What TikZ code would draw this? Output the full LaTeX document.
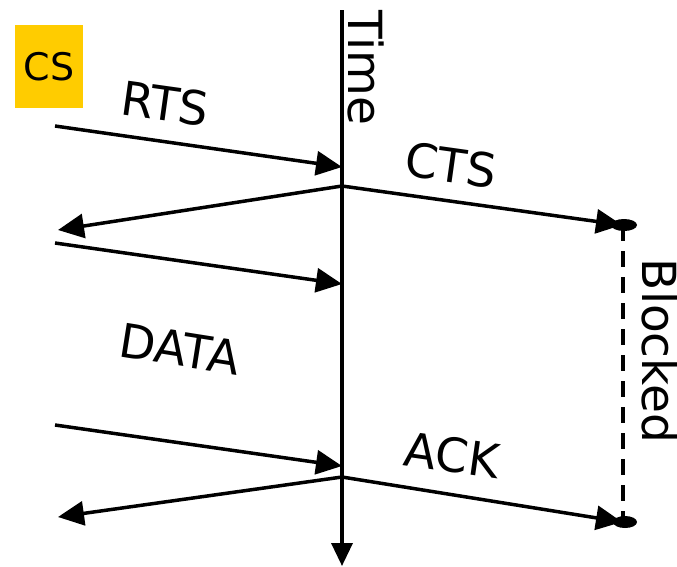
\documentclass[tikz,border=0pt]{standalone}
\usepackage{fontspec}
\setmainfont{DejaVu Sans}
\usetikzlibrary{arrows.meta}
\definecolor{csyellow}{HTML}{FFCC00}
\tikzset{
  msg/.style={line width=3.5pt,-{Triangle[length=26pt,width=24pt]}},
  lbl/.style={font=\fontsize{47}{50}\selectfont,inner sep=0pt,rotate=-8},
}
\begin{document}
\begin{tikzpicture}[x=1pt,y=-1pt]
\useasboundingbox (0,0) rectangle (677,566);
% time axis
\coordinate (tTop) at (342,10);
\coordinate (tBot) at (342,566);
\draw[line width=3.5pt,-{Triangle[length=23pt,width=21pt]}] (tTop) -- (tBot);
\node[lbl,rotate=-82] (time) at (366,68) {Time};
% carrier sense tag
\node[fill=csyellow,minimum width=68pt,minimum height=83pt,inner sep=0pt,
  font=\fontsize{38}{40}\selectfont] (cs) at (49,66.5) {CS};
% RTS / CTS
\coordinate (rtsS) at (55,126);
\coordinate (rtsE) at (342,167);
\coordinate (ctsO) at (342,186);
\coordinate (ctsL) at (58,230);
\coordinate (ctsR) at (622,225);
\draw[msg] (rtsS) -- (rtsE);
\draw[msg] (ctsO) -- (ctsL);
\draw[msg] (ctsO) -- (ctsR);
\node[lbl] (rts) at (165,104) {RTS};
\node[lbl] (cts) at (451,165) {CTS};
% DATA
\coordinate (dataS) at (55,243);
\coordinate (dataE) at (342,284);
\coordinate (dataS2) at (55,425);
\coordinate (dataE2) at (342,466);
\draw[msg] (dataS) -- (dataE);
\draw[msg] (dataS2) -- (dataE2);
\node[lbl,rotate=-1] (data) at (180,349) {DATA};
% ACK
\coordinate (ackO) at (342,477);
\coordinate (ackL) at (58,517);
\coordinate (ackR) at (622,522);
\draw[msg] (ackO) -- (ackL);
\draw[msg] (ackO) -- (ackR);
\node[lbl] (ack) at (452,455) {ACK};
% blocked interval
\coordinate (blkT) at (623,225);
\coordinate (blkB) at (623,522);
\fill (blkT) ++(1,0) ellipse [x radius=13pt,y radius=6pt];
\fill (blkB) ++(2,0) ellipse [x radius=12pt,y radius=6pt];
\draw[line width=3.5pt,dash pattern=on 16pt off 10pt] (blkT) -- (blkB);
\node[lbl,rotate=-82] (blocked) at (660,351) {Blocked};
\end{tikzpicture}
\end{document}
